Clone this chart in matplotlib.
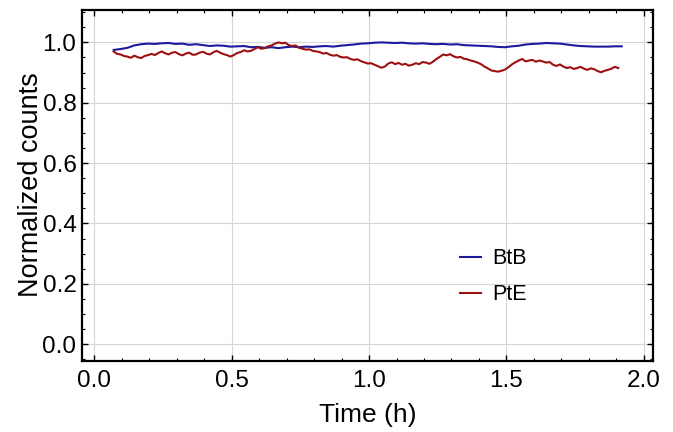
import matplotlib
matplotlib.use('Agg')
import matplotlib.pyplot as plt
from matplotlib.ticker import MultipleLocator
import numpy as np

plt.rcParams['font.family'] = ['Liberation Sans', 'DejaVu Sans']

# Sampling: first point (h) and interval (h) for each detector trace
t0 = 0.07
dt_btb = 0.025
dt_pte = 0.0125

btb = [0.975, 0.978, 0.982, 0.990, 0.994, 0.996, 0.995, 0.997, 0.998, 0.995,
       0.996, 0.992, 0.994, 0.991, 0.988, 0.990, 0.989, 0.986, 0.987, 0.988,
       0.984, 0.985, 0.982, 0.984, 0.981, 0.984, 0.986, 0.984, 0.986, 0.985,
       0.987, 0.988, 0.986, 0.989, 0.991, 0.993, 0.996, 0.997, 0.999, 1.000,
       0.999, 0.998, 0.999, 0.997, 0.996, 0.997, 0.995, 0.994, 0.995, 0.993,
       0.994, 0.991, 0.990, 0.989, 0.988, 0.987, 0.985, 0.984, 0.987, 0.989,
       0.993, 0.995, 0.996, 0.998, 0.997, 0.996, 0.993, 0.990, 0.988, 0.987,
       0.986, 0.986, 0.986, 0.987, 0.987]

pte = [0.970, 0.962, 0.960, 0.955, 0.953, 0.949, 0.956, 0.951, 0.948, 0.955,
       0.958, 0.962, 0.958, 0.965, 0.970, 0.964, 0.960, 0.966, 0.968, 0.961,
       0.957, 0.963, 0.966, 0.959, 0.960, 0.966, 0.969, 0.963, 0.960, 0.967,
       0.972, 0.966, 0.961, 0.958, 0.953, 0.958, 0.965, 0.968, 0.974, 0.970,
       0.972, 0.978, 0.984, 0.979, 0.981, 0.987, 0.990, 0.996, 1.000, 0.997,
       0.999, 0.991, 0.988, 0.990, 0.982, 0.979, 0.976, 0.977, 0.972, 0.970,
       0.968, 0.963, 0.965, 0.959, 0.956, 0.958, 0.952, 0.950, 0.951, 0.945,
       0.942, 0.944, 0.938, 0.934, 0.930, 0.931, 0.926, 0.921, 0.916, 0.920,
       0.930, 0.934, 0.928, 0.932, 0.926, 0.929, 0.923, 0.926, 0.931, 0.928,
       0.935, 0.933, 0.929, 0.936, 0.945, 0.952, 0.960, 0.957, 0.961, 0.954,
       0.950, 0.952, 0.946, 0.944, 0.940, 0.937, 0.933, 0.928, 0.920, 0.914,
       0.907, 0.905, 0.903, 0.906, 0.910, 0.918, 0.927, 0.934, 0.940, 0.945,
       0.937, 0.940, 0.942, 0.936, 0.940, 0.937, 0.933, 0.935, 0.926, 0.922,
       0.927, 0.920, 0.915, 0.918, 0.912, 0.915, 0.919, 0.913, 0.909, 0.914,
       0.911, 0.905, 0.901, 0.906, 0.909, 0.913, 0.919, 0.915]

time_btb = t0 + dt_btb * np.arange(len(btb))
time_pte = t0 + dt_pte * np.arange(len(pte))

fig = plt.figure(figsize=(6.73, 4.32), dpi=100)
ax = fig.add_axes([0.1218, 0.1655, 0.8485, 0.8125])

ax.plot(time_btb, btb, color='#1a1a9c', lw=1.5, label='BtB')
ax.plot(time_pte, pte, color='#9c1010', lw=1.5, label='PtE')

ax.set_xlim(-0.0455, 2.034)
ax.set_ylim(-0.054, 1.109)

ax.xaxis.set_major_locator(MultipleLocator(0.5))
ax.xaxis.set_minor_locator(MultipleLocator(0.1))
ax.yaxis.set_major_locator(MultipleLocator(0.2))
ax.yaxis.set_minor_locator(MultipleLocator(0.05))
ax.xaxis.set_major_formatter(lambda v, p: f'{v:.1f}')
ax.yaxis.set_major_formatter(lambda v, p: f'{v:.1f}')

ax.grid(True, which='major', color='#d6d6d6', lw=0.8)
ax.set_axisbelow(True)

ax.tick_params(which='both', direction='in', top=True, right=True,
               labeltop=False, labelright=False, colors='black', labelsize=17.5)
ax.tick_params(axis='x', which='major', pad=7)
ax.tick_params(axis='y', which='major', pad=4)
ax.tick_params(which='major', length=4, width=1.0)
ax.tick_params(which='minor', length=2, width=0.8)
for s in ax.spines.values():
    s.set_linewidth(1.6)

ax.set_xlabel('Time (h)', fontsize=19, labelpad=8)
ax.set_ylabel('Normalized counts', fontsize=19.5, labelpad=-1)

ax.legend(loc='center left', bbox_to_anchor=(0.628, 0.239), frameon=False,
          fontsize=15.5, handlelength=1.0, handletextpad=0.5, labelspacing=0.7)

plt.savefig('out.png', dpi=100)
plt.close()
